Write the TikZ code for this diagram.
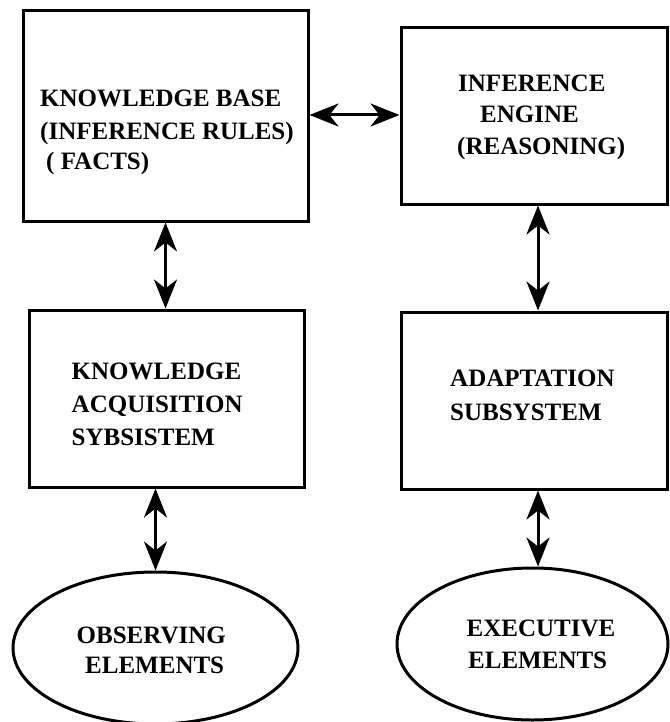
\documentclass[tikz,border=0pt]{standalone}
\usepackage{fontspec}
\setmainfont{Liberation Serif}
\usetikzlibrary{arrows.meta,shapes.geometric}
\tikzset{
  box/.style={draw, line width=3pt, rectangle, inner sep=0pt},
  oval/.style={draw, line width=3pt, ellipse, inner sep=0pt},
  lbl/.style={inner sep=0pt, anchor=base west, font=\fontsize{25}{30}\selectfont\bfseries},
  link/.style={line width=3pt, {Stealth[length=29pt,width=23pt,inset=9pt]}-{Stealth[length=29pt,width=23pt,inset=9pt]}}
}
\begin{document}
\begin{tikzpicture}[x=1pt,y=-1pt]
\useasboundingbox (0,0) rectangle (669,722);
% boxes
\node[box, minimum width=285pt, minimum height=210pt] (kb) at (165.5,116) {};
\node[box, minimum width=266pt, minimum height=176pt] (ie) at (534,116) {};
\node[box, minimum width=275pt, minimum height=177pt] (ka) at (166.5,398.5) {};
\node[box, minimum width=266pt, minimum height=177pt] (ad) at (534,400.5) {};
\node[oval, minimum width=285pt, minimum height=152pt] (ob) at (155.5,648) {};
\node[oval, minimum width=271pt, minimum height=152pt] (ex) at (532.5,644) {};
% texts
\node[lbl] (t1) at (40,106.5) {KNOWLEDGE BASE};
\node[lbl] (t2) at (40,139.5) {(INFERENCE RULES)};
\node[lbl] (t3) at (46,170) {( FACTS)};
\node[lbl] (t4) at (458,91.5) {INFERENCE};
\node[lbl] (t5) at (480,123) {ENGINE};
\node[lbl] (t6) at (457,155) {(REASONING)};
\node[lbl] (t7) at (71.5,379) {KNOWLEDGE};
\node[lbl] (t8) at (71.5,412.5) {ACQUISITION};
\node[lbl] (t9) at (71.5,445.5) {SYBSISTEM};
\node[lbl] (t10) at (450,386.5) {ADAPTATION};
\node[lbl] (t11) at (450,420) {SUBSYSTEM};
\node[lbl] (t12) at (76.5,643) {OBSERVING};
\node[lbl] (t13) at (85,673) {ELEMENTS};
\node[lbl] (t14) at (466.5,636.5) {EXECUTIVE};
\node[lbl] (t15) at (468,668) {ELEMENTS};
% connectors
\draw[link] (kb.east |- 0,115) -- (ie.west |- 0,115);
\draw[link] (kb.south) -- (kb.south |- ka.north);
\draw[link] (ie.south -| 538,0) -- (ad.north -| 538,0);
\draw[link] (ka.south -| ob.north) -- (ob.north);
\draw[link] (ad.south -| 538,0) -- (ex.north -| 538,0);
\end{tikzpicture}
\end{document}
